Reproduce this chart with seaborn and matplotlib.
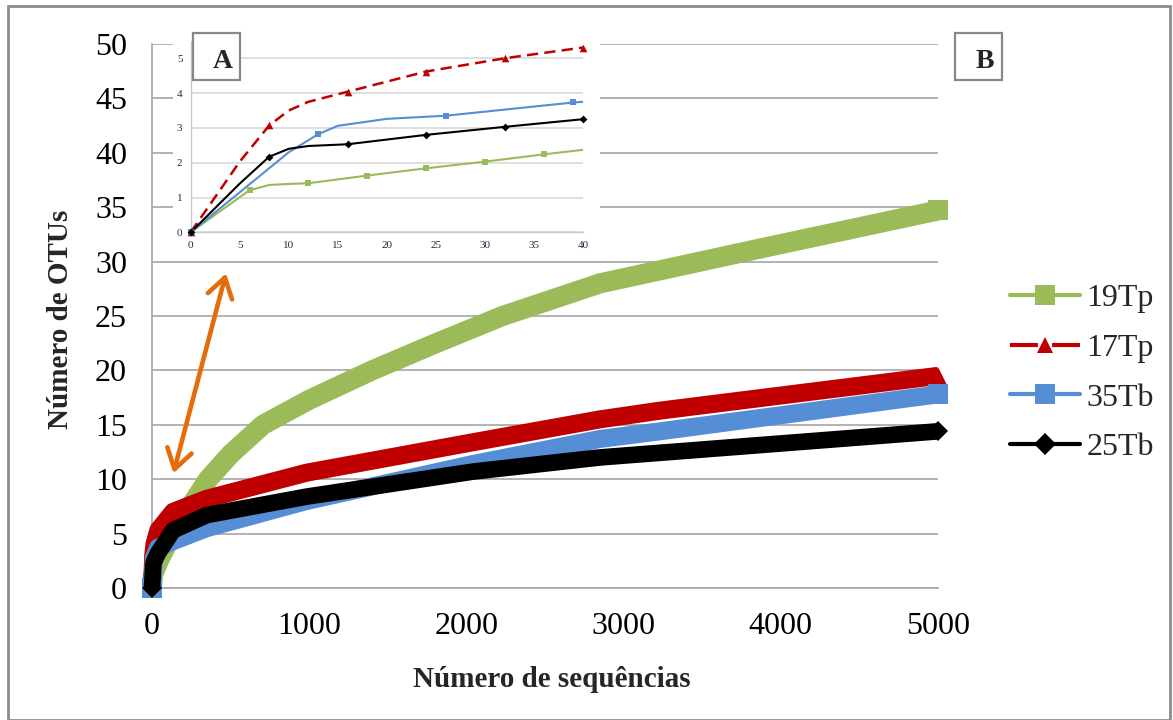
import matplotlib
matplotlib.use("Agg")
import matplotlib.pyplot as plt
import seaborn as sns
from matplotlib.lines import Line2D
from matplotlib.patches import Rectangle, FancyArrowPatch

# --- Data ---
# main chart (B): rarefaction curves, x = number of sequences
green_x = [0, 6, 40, 130, 357, 500, 706, 1000, 1400, 1790, 2230, 2850, 3900, 5000]
green_y = [0, 1.21, 2.4, 5.0, 10.0, 12.3, 15.0, 17.3, 20.0, 22.4, 25.0, 28.0, 31.3, 34.7]
red_x = [0, 8, 16, 40, 134, 348, 984, 2043, 2850, 3231, 5000]
red_y = [0, 3.05, 4.05, 5.3, 7.0, 8.2, 10.6, 13.4, 15.5, 16.3, 19.5]
blue_x = [0, 13, 39, 134, 348, 984, 2043, 2850, 3231, 5000]
blue_y = [0, 2.8, 3.72, 4.3, 5.5, 8.0, 11.4, 13.7, 14.4, 17.8]
black_x = [0, 8, 16, 40, 134, 348, 984, 2043, 2850, 5000]
black_y = [0, 2.17, 2.53, 3.25, 5.3, 6.7, 8.4, 10.7, 12.0, 14.4]

# inset (A): first 40 sequences, curve points and marker points
in_green_x = [0, 6, 8, 10, 12, 18, 24, 30, 36, 40]
in_green_y = [0, 1.21, 1.36, 1.39, 1.41, 1.63, 1.84, 2.03, 2.24, 2.37]
in_green_mx = [0, 6, 12, 18, 24, 30, 36]
in_green_my = [0, 1.21, 1.41, 1.63, 1.84, 2.03, 2.24]
in_red_x = [0, 5, 8, 10, 12, 16, 20, 24, 32, 40]
in_red_y = [0, 2.03, 3.07, 3.5, 3.75, 4.04, 4.33, 4.62, 5.0, 5.31]
in_red_mx = [0, 8, 16, 24, 32, 40]
in_red_my = [0, 3.07, 4.04, 4.62, 5.0, 5.31]
in_blue_x = [0, 5, 10, 13, 15, 20, 26, 39, 40]
in_blue_y = [0, 1.15, 2.3, 2.82, 3.06, 3.26, 3.35, 3.73, 3.75]
in_blue_mx = [0, 13, 26, 39]
in_blue_my = [0, 2.82, 3.35, 3.73]
in_black_x = [0, 5, 8, 10, 12, 16, 24, 32, 40]
in_black_y = [0, 1.4, 2.17, 2.40, 2.48, 2.53, 2.80, 3.03, 3.25]
in_black_mx = [0, 8, 16, 24, 32, 40]
in_black_my = [0, 2.17, 2.53, 2.80, 3.03, 3.25]

labels = ["19Tp", "17Tp", "35Tb", "25Tb"]
GREEN, RED, BLUE, BLACK = "#9BBB59", "#C00000", "#558ED5", "#000000"
ORANGE = "#E46C0A"
GRID = "#A6A6A6"

W, H = 1173, 720

sns.set_style("white")
plt.rcParams["font.family"] = ["Liberation Serif", "DejaVu Serif"]

fig = plt.figure(figsize=(W / 100, H / 100), dpi=100)

# outer frame
fig.add_artist(Rectangle((8 / W, 0), (1170 - 8) / W, 1 - 13 / H + 0.01,
                         transform=fig.transFigure, fill=False,
                         edgecolor="#8C8C8C", lw=2, zorder=0.5))

# --- main chart ---
ax = fig.add_axes([152 / W, 132 / H, 786 / W, 544 / H])
series = [
    (green_x, green_y, GREEN, "s", 14.5, 14),
    (red_x, red_y, RED, "^", 13, 13),
    (blue_x, blue_y, BLUE, "s", 13, 14),
    (black_x, black_y, BLACK, "D", 12, 10),
]
for xs, ys, col, mk, lw, ms in series:
    sns.lineplot(x=xs, y=ys, ax=ax, color=col, lw=lw, marker=mk, markersize=ms,
                 markevery=[0, len(xs) - 1], markeredgewidth=0,
                 solid_capstyle="butt", solid_joinstyle="round",
                 clip_on=False, zorder=3)

ax.set_xlim(0, 5000)
ax.set_ylim(0, 50)
ax.set_xticks(range(0, 5001, 1000))
ax.set_yticks(range(0, 51, 5))
ax.grid(axis="y", color=GRID, lw=1.2)
ax.grid(axis="x", visible=False)
for s in ["top", "right"]:
    ax.spines[s].set_visible(False)
for s in ["left", "bottom"]:
    ax.spines[s].set_color(GRID)
    ax.spines[s].set_linewidth(1.2)
ax.tick_params(axis="both", direction="out", length=7, width=1.2, color=GRID,
               labelsize=23, labelcolor="black")
ax.tick_params(axis="y", pad=11)
ax.tick_params(axis="x", pad=10)

ax.set_xlabel("Número de sequências", fontsize=21, fontweight="bold", va="center")
ax.xaxis.set_label_coords(0.509, -0.169)
ax.set_ylabel("Número de OTUs", fontsize=21, fontweight="bold", va="center")
ax.yaxis.set_label_coords(-0.117, 0.493)

# --- inset (A) ---
fig.add_artist(Rectangle((173 / W, 1 - 256 / H), (600 - 173) / W, (256 - 28) / H,
                         transform=fig.transFigure, facecolor="white",
                         edgecolor="none", zorder=1))
axi = fig.add_axes([190.7 / W, 1 - 232.3 / H, (583 - 190.7) / W, (232.3 - 40.9) / H])
axi.set_zorder(2)
axi.patch.set_alpha(0)

inset = [
    (in_green_x, in_green_y, in_green_mx, in_green_my, GREEN, "s", 5, "-", 1.5),
    (in_red_x, in_red_y, in_red_mx, in_red_my, RED, "^", 5.5, (0, (4.5, 2.5)), 1.8),
    (in_blue_x, in_blue_y, in_blue_mx, in_blue_my, BLUE, "s", 5, "-", 1.5),
    (in_black_x, in_black_y, in_black_mx, in_black_my, BLACK, "D", 4, "-", 1.5),
]
for lx, ly, mx, my, col, mk, ms, ls, lw in inset:
    sns.lineplot(x=lx, y=ly, ax=axi, color=col, lw=lw, linestyle=ls,
                 solid_joinstyle="round", zorder=3)
    sns.scatterplot(x=mx, y=my, ax=axi, color=col, marker=mk, s=ms ** 2,
                    linewidth=0, zorder=4, clip_on=False)

axi.set_xlim(0, 40)
axi.set_ylim(0, 5.5)
axi.set_xticks(range(0, 41, 5))
axi.set_yticks(range(0, 6))
axi.grid(axis="y", color="#D9D9D9", lw=1.2)
axi.grid(axis="x", visible=False)
for s in ["top", "right"]:
    axi.spines[s].set_visible(False)
for s in ["left", "bottom"]:
    axi.spines[s].set_color("#C8C8C8")
    axi.spines[s].set_linewidth(1)
axi.tick_params(axis="both", length=3, width=0.8, color="#C8C8C8",
                labelsize=8, labelcolor="#1F2A44", pad=3)
axi.tick_params(axis="y", length=0, pad=6)

# --- boxed panel letters ---
for x0, letter, tx in [(193, "A", 222.7), (955, "B", 985)]:
    fig.add_artist(Rectangle((x0 / W, 1 - 80 / H), 47 / W, 47 / H,
                             transform=fig.transFigure, facecolor="white",
                             edgecolor="#888888", lw=1.6, zorder=5))
    fig.text(tx / W, 1 - 62 / H, letter, fontsize=20, fontweight="bold",
             ha="center", va="center", zorder=6)

# --- double arrow linking inset and main chart ---
fig.add_artist(FancyArrowPatch((226.7 / W, 1 - 270.7 / H), (172.7 / W, 1 - 476 / H),
                               transform=fig.transFigure,
                               arrowstyle="<->,head_length=0.7,head_width=0.45",
                               mutation_scale=20, lw=3.3, color=ORANGE, zorder=6))

# --- legend ---
handles = [
    Line2D([], [], color=GREEN, lw=3, marker="s", markersize=14, markeredgewidth=0),
    Line2D([], [], color=RED, lw=3, linestyle=(0, (6.7, 3.4)), marker="^",
           markersize=12, markeredgewidth=0),
    Line2D([], [], color=BLUE, lw=3, marker="s", markersize=14, markeredgewidth=0),
    Line2D([], [], color=BLACK, lw=3, marker="D", markersize=11, markeredgewidth=0),
]
fig.legend(handles, labels, loc="center left", bbox_to_anchor=(1010 / W, 1 - 373 / H),
           frameon=False, fontsize=23, handlelength=2.2, handletextpad=0.2,
           labelspacing=0.64, borderpad=0, borderaxespad=0)

fig.savefig("out.png", dpi=100)
